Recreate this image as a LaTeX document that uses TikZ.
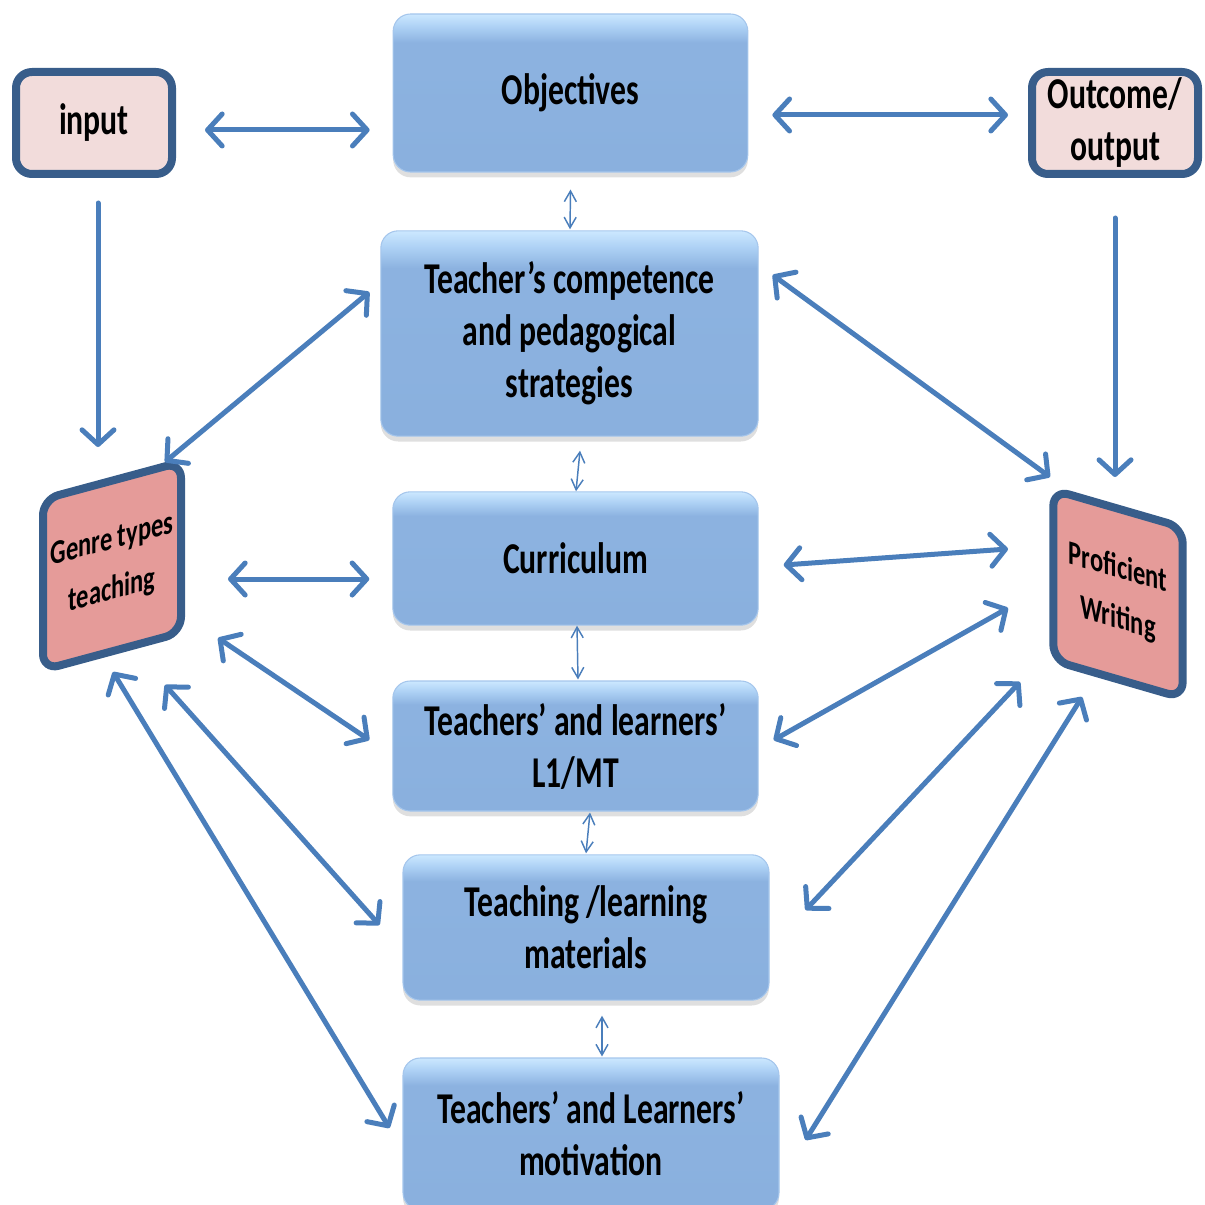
\documentclass[tikz,border=0pt]{standalone}
\usepackage{fontspec}
\setmainfont{Carlito}[FakeStretch=0.72]
\usepackage{tikz}
\usetikzlibrary{arrows.meta,calc,shadows}

\pgfdeclareverticalshading{bevel}{100bp}{rgb(0bp)=(0.54,0.69,0.87); rgb(25bp)=(0.54,0.69,0.87); rgb(66bp)=(0.55,0.70,0.88); rgb(71bp)=(0.68,0.82,0.96); rgb(75bp)=(0.80,0.91,1); rgb(100bp)=(0.80,0.91,1)}

\begin{document}
\begin{tikzpicture}[x=0.75pt,y=0.75pt,yscale=-1,xscale=1,
  bigtip/.tip={Straight Barb[length=11pt,width=24pt,round]},
  smalltip/.tip={Straight Barb[length=8pt,width=9pt]},
  hub/.style={shading=bevel, draw={rgb, 255:red, 165; green, 198; blue, 236}, line width=0.8pt, rounded corners=13pt, inner sep=0pt, align=center, font=\bfseries\fontsize{33}{39}\selectfont, drop shadow={shadow xshift=0pt, shadow yshift=-4pt, opacity=0.25}},
  endbox/.style={draw={rgb, 255:red, 56; green, 93; blue, 138}, line width=6pt, rounded corners=12pt, fill={rgb, 255:red, 242; green, 220; blue, 219}, inner sep=0pt, align=center, font=\bfseries\fontsize{33}{39}\selectfont},
  tiltbox/.style={endbox, fill={rgb, 255:red, 229; green, 155; blue, 153}, font=\bfseries\fontsize{25.5}{38}\selectfont},
  link/.style={bigtip-bigtip, draw={rgb, 255:red, 74; green, 126; blue, 187}, line width=3.75pt, line cap=round},
  feed/.style={-bigtip, draw={rgb, 255:red, 74; green, 126; blue, 187}, line width=3.75pt, line cap=round},
  tie/.style={smalltip-smalltip, draw={rgb, 255:red, 74; green, 126; blue, 187}, line width=1.1pt}]
\useasboundingbox (0,0) rectangle (1204,1205);

%Shape: Rounded Rect -- the two ends
\node[endbox, minimum width=117pt, minimum height=76.5pt] (input) at (94,123) {input};
\node[endbox, minimum width=124.5pt, minimum height=76.5pt] (out) at (1115,123) {Outcome/\\output};

%Shape: Rounded Rect -- middle column
\node[hub, minimum width=266pt, minimum height=118.5pt] (obj) at (570.5,93) {Objectives};
\node[hub, minimum width=283pt, minimum height=154pt] (teach) at (569.5,333.5) {Teacher’s competence\\and pedagogical\\strategies};
\node[hub, minimum width=274pt, minimum height=100pt] (cur) at (575.5,558.5) {Curriculum};
\node[hub, minimum width=274pt, minimum height=97.5pt] (l1) at (575.5,746) {Teachers’ and learners’\\L1/MT};
\node[hub, minimum width=274.5pt, minimum height=109pt] (mat) at (586,927.5) {Teaching /learning\\materials};
\node[hub, minimum width=282pt, minimum height=114pt] (mot) at (591,1134) {Teachers’ and Learners’\\motivation};

%Shape: Tilted Rect
\begin{scope}[shift={(112,566)}]
\node[tiltbox, yslant=0.27, minimum width=103.5pt, minimum height=128pt] (genre) at (0,0) {Genre types\\teaching};
\end{scope}
\begin{scope}[shift={(1118,594)}]
\node[tiltbox, yslant=-0.29, minimum width=97pt, minimum height=128pt] (prof) at (0,0) {Proficient\\Writing};
\end{scope}

%Straight Lines -- top row
\draw[link] ($(input.east)+(29,7)$) -- ($(obj.west)+(-23,37)$);
\draw[link] ($(obj.east)+(24,22)$) -- ($(out.west)+(-20,-8)$);
\draw[feed] ($(input.south)+(4,25)$) -- ($(genre.center)+(-14,-119)$);
\draw[feed] ($(out.south)+(0,40)$) -- ($(prof.center)+(-3,-117)$);

%Straight Lines -- left fan
\draw[link] ($(genre.center)+(53,-104)$) -- ($(teach.west)+(-11,-41.5)$);
\draw[link] ($(genre.center)+(116,13)$) -- ($(cur.west)+(-23,20.5)$);
\draw[link] ($(genre.center)+(106,72)$) -- ($(l1.west)+(-23,-6)$);
\draw[link] ($(genre.center)+(53,119)$) -- ($(mat.west)+(-23,-2.5)$);
\draw[link] ($(genre.center)+(1,106)$) -- ($(mot.west)+(-13,-6)$);

%Straight Lines -- right fan
\draw[link] ($(teach.east)+(14,-58.5)$) -- ($(prof.center)+(-68,-117)$);
\draw[link] ($(cur.east)+(25,6.5)$) -- ($(prof.center)+(-110,-45)$);
\draw[link] ($(l1.east)+(15,-6)$) -- ($(prof.center)+(-110,14)$);
\draw[link] ($(mat.east)+(36,-17.5)$) -- ($(prof.center)+(-98,88)$);
\draw[link] ($(mot.east)+(26,6)$) -- ($(prof.center)+(-36,103)$);

%Straight Lines -- small links down the middle
\draw[tie] ($(obj.south)+(0,17)$) -- ($(teach.north)+(0.5,-1)$);
\draw[tie] ($(teach.south)+(10.5,14)$) -- ($(cur.north)+(0.5,0)$);
\draw[tie] ($(cur.south)+(1.5,0)$) -- ($(l1.north)+(2.5,-1)$);
\draw[tie] ($(l1.south)+(14.5,1)$) -- ($(mat.north)+(0,-1)$);
\draw[tie] ($(mat.south)+(16,15)$) -- ($(mot.north)+(11,-1)$);

\end{tikzpicture}
\end{document}
